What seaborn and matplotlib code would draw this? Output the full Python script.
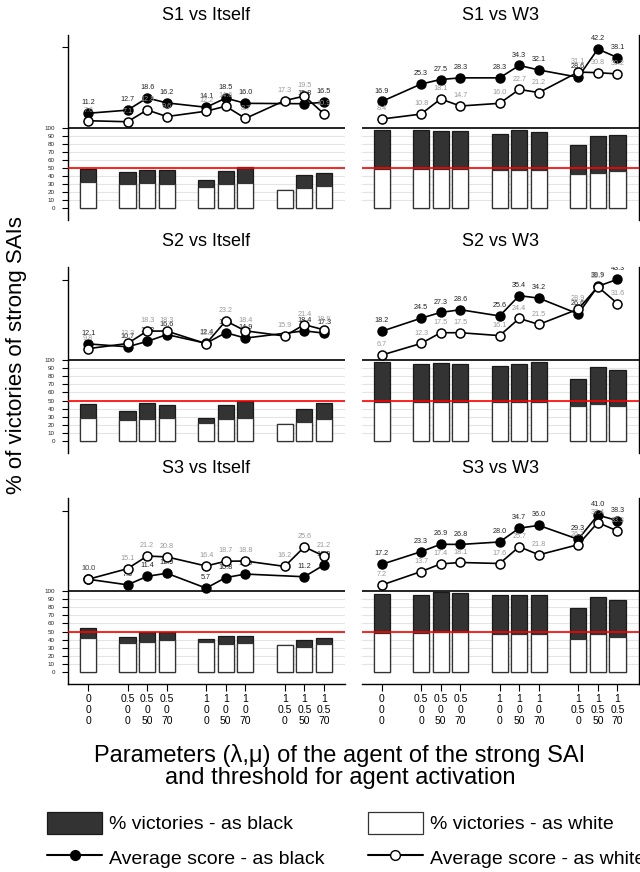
import numpy as np
import pandas as pd
import matplotlib
matplotlib.use("Agg")
import matplotlib.pyplot as plt
from matplotlib.patches import Patch
from matplotlib.lines import Line2D
import seaborn as sns

# Parameters of the agent (lambda, mu) and activation threshold.
Lambdas = ['0', '0.5', '0.5', '0.5', '1', '1', '1', '1', '1', '1']
Mus = ['0', '0', '0', '0', '0', '0', '0', '0.5', '0.5', '0.5']
Umbrales = ['0', '0', '50', '70', '0', '50', '70', '0', '50', '70']

nan = np.nan

# % victories (white part / black part of the stacked bars).
S1_Self_Win_White = [32.6, 30.6, 31.8, 30.6, 26.9, 29.8, 31.8, 23.1, 25.2, 27.7]
S1_Self_Win_Black = [15.7, 14.9, 15.7, 16.5, 8.2, 16.1, 19.4, 0.0, 15.7, 16.5]
S1_W3_Win_White = [48.3, 48.3, 48.3, 48.3, 47.9, 47.9, 47.1, 43.0, 43.8, 45.9]
S1_W3_Win_Black = [48.4, 49.2, 48.0, 47.6, 44.7, 48.8, 47.9, 35.1, 45.5, 44.6]
S2_Self_Win_White = [28.4, 26.3, 27.2, 28.4, 22.6, 26.7, 28.0, 20.6, 23.0, 26.7]
S2_Self_Win_Black = [17.7, 11.1, 19.3, 16.5, 5.4, 17.7, 21.4, 0.0, 16.1, 20.2]
S2_W3_Win_White = [48.6, 48.6, 48.6, 47.7, 48.1, 47.7, 48.6, 43.2, 45.3, 43.2]
S2_W3_Win_Black = [48.9, 47.3, 48.1, 47.8, 44.5, 47.8, 48.9, 32.9, 46.1, 44.9]
S3_Self_Win_White = [41.6, 35.4, 37.0, 39.5, 36.6, 35.0, 36.2, 33.3, 30.5, 35.0]
S3_Self_Win_Black = [13.1, 8.2, 12.8, 9.9, 3.7, 9.9, 8.7, 0.0, 8.6, 7.4]
S3_W3_Win_White = [47.7, 47.7, 49.0, 49.0, 47.3, 46.9, 46.9, 41.2, 46.5, 43.6]
S3_W3_Win_Black = [49.4, 48.2, 49.8, 48.5, 47.4, 49.0, 49.0, 37.4, 46.1, 45.3]

# Average score as black / as white.
S1_Self_Score_Black = [11.2, 12.7, 18.6, 16.2, 14.1, 18.5, 16.0, nan, 15.8, 16.5]
S1_Self_Score_White = [7.6, 7.1, 12.8, 9.6, 12.2, 14.6, 8.7, 17.3, 19.5, 10.9]
S1_W3_Score_Black = [16.9, 25.3, 27.5, 28.3, 28.3, 34.3, 32.1, 28.6, 42.2, 38.1]
S1_W3_Score_White = [8.4, 10.8, 18.1, 14.7, 16.0, 22.7, 21.2, 31.1, 30.8, 30.2]
S2_Self_Score_Black = [12.1, 10.7, 13.3, 16.6, 12.4, 17.5, 14.9, nan, 18.4, 17.3]
S2_Self_Score_White = [9.8, 12.3, 18.3, 18.3, 12.2, 23.2, 18.4, 15.9, 21.4, 18.9]
S2_W3_Score_Black = [18.2, 24.5, 27.3, 28.6, 25.6, 35.4, 34.2, 26.6, 39.9, 43.3]
S2_W3_Score_White = [6.7, 12.3, 17.5, 17.5, 16.1, 24.4, 21.5, 28.9, 39.7, 31.6]
S3_Self_Score_Black = [10.0, 7.3, 11.4, 12.9, 5.7, 10.8, 12.5, nan, 11.2, 16.9]
S3_Self_Score_White = [10.0, 15.1, 21.2, 20.8, 16.4, 18.7, 18.8, 16.2, 25.6, 21.2]
S3_W3_Score_Black = [17.2, 23.3, 26.9, 26.8, 28.0, 34.7, 36.0, 29.3, 41.0, 38.3]
S3_W3_Score_White = [7.2, 13.7, 17.4, 18.1, 17.6, 25.7, 21.8, 26.7, 37.4, 33.3]

Titulos = ['S1 vs Itself', 'S1 vs W3', 'S2 vs Itself', 'S2 vs W3', 'S3 vs Itself', 'S3 vs W3']

Paneles = [
    (S1_Self_Win_White, S1_Self_Win_Black, S1_Self_Score_Black, S1_Self_Score_White),
    (S1_W3_Win_White, S1_W3_Win_Black, S1_W3_Score_Black, S1_W3_Score_White),
    (S2_Self_Win_White, S2_Self_Win_Black, S2_Self_Score_Black, S2_Self_Score_White),
    (S2_W3_Win_White, S2_W3_Win_Black, S2_W3_Score_Black, S2_W3_Score_White),
    (S3_Self_Win_White, S3_Self_Win_Black, S3_Self_Score_Black, S3_Self_Score_White),
    (S3_W3_Win_White, S3_W3_Win_Black, S3_W3_Score_Black, S3_W3_Score_White),
]

# Positions on the x axis: leave an empty slot when the (lambda, mu) group changes.
Posiciones = []
x = 0
for i in range(len(Lambdas)):
    if i > 0 and (Lambdas[i], Mus[i]) != (Lambdas[i - 1], Mus[i - 1]):
        x += 1
    Posiciones.append(x)
    x += 1
Etiquetas_X = [f'{l}\n{m}\n{u}' for l, m, u in zip(Lambdas, Mus, Umbrales)]

sns.set_theme(style='white')
plt.rcParams['font.family'] = ['Liberation Sans', 'DejaVu Sans']
plt.rcParams['text.color'] = 'black'
plt.rcParams['axes.labelcolor'] = 'black'
plt.rcParams['xtick.color'] = 'black'
plt.rcParams['ytick.color'] = 'black'

W, H = 640, 872
Figure = plt.figure(figsize=(W / 100, H / 100), dpi=100)

Oscuro = '#333333'
Tops = [35, 267.5, 498.5]     # top of each row, pixels
Lefts = [68, 361.5]
Ancho = 277
Alto = 185.5
Titulo_Y = [15, 241, 468]

for k, (Win_White, Win_Black, Score_Black, Score_White) in enumerate(Paneles):
    fila, col = divmod(k, 2)
    Ax = Figure.add_axes([Lefts[col] / W, 1 - (Tops[fila] + Alto) / H, Ancho / W, Alto / H])

    Datos = pd.DataFrame({'pos': Posiciones, 'blanco': Win_White,
                          'total': np.array(Win_White) + np.array(Win_Black),
                          'score_negro': Score_Black, 'score_blanco': Score_White})

    # Light grid and reference lines.
    for g in range(10, 100, 10):
        Ax.axhline(g, color='#e4e4e4', lw=0.8, zorder=0)

    # Stacked bars: total (black part on top), white part drawn over it.
    sns.barplot(data=Datos, x='pos', y='total', native_scale=True, width=0.82, color=Oscuro,
                saturation=1, edgecolor='#1a1a1a', linewidth=0.9, errorbar=None, ax=Ax, zorder=2)
    sns.barplot(data=Datos, x='pos', y='blanco', native_scale=True, width=0.82, color='white',
                saturation=1, edgecolor='#333333', linewidth=0.9, errorbar=None, ax=Ax, zorder=2)

    Ax.axhline(100, color='black', lw=1.2, zorder=3)
    Ax.axhline(50, color='red', lw=1.2, zorder=3)
    Ax.set_ylim(-15.1, 215.0)

    # Score lines on a second y axis.
    Ax2 = Ax.twinx()
    Negro = Datos.dropna(subset=['score_negro'])
    sns.lineplot(data=Negro, x='pos', y='score_negro', ax=Ax2, color='black', lw=1.2,
                 marker='o', markersize=6.5, markerfacecolor='black', markeredgecolor='black',
                 markeredgewidth=1.0, errorbar=None, legend=False, zorder=4)
    for px, v in zip(Negro['pos'], Negro['score_negro']):
        Ax2.annotate(f'{v:.1f}', (px, v), xytext=(0, 7.5), textcoords='offset points',
                     ha='center', va='center', fontsize=5.2, color='#222222', clip_on=True, zorder=5)
    sns.lineplot(data=Datos, x='pos', y='score_blanco', ax=Ax2, color='black', lw=1.2,
                 marker='o', markersize=6.5, markerfacecolor='white', markeredgecolor='black',
                 markeredgewidth=1.1, errorbar=None, legend=False, zorder=6)
    for px, v in zip(Datos['pos'], Datos['score_blanco']):
        Ax2.annotate(f'{v:.1f}', (px, v), xytext=(0, 7.5), textcoords='offset points',
                     ha='center', va='center', fontsize=5.2, color='#999999', clip_on=True, zorder=7)
    Ax2.set_ylim(-40.6, 49.0)
    Ax2.set_yticks([])
    Ax2.set_ylabel('')
    for s in Ax2.spines.values():
        s.set_visible(False)

    Ax.set_xlim(-1.03, 13.07)
    Ax.set_xlabel('')
    Ax.set_ylabel('')
    for s in Ax.spines.values():
        s.set_visible(False)
        s.set_color('black')
        s.set_linewidth(1.0)

    if col == 0:
        Ax.spines['left'].set_visible(True)
        Ax.yaxis.tick_left()
        Ax.set_yticks(list(range(0, 101, 10)) + [200])
        Ax.set_yticklabels([str(t) for t in range(0, 101, 10)] + [''])
        Ax.tick_params(axis='y', which='both', left=True, length=4.5, width=0.8, color='black',
                       labelsize=4.5, pad=5, labelcolor='#222222')
    else:
        Ax.spines['right'].set_visible(True)
        Ax.yaxis.tick_right()
        Ax.set_yticks([0, 180])
        Ax.set_yticklabels(['', ''])
        Ax.tick_params(axis='y', which='both', right=True, length=4.5, width=0.8, color='black')

    if fila == 2:
        Ax.spines['bottom'].set_visible(True)
        Ax.set_xticks(Posiciones)
        Ax.set_xticklabels(Etiquetas_X, fontsize=7.5, linespacing=1.15)
        Ax.tick_params(axis='x', bottom=True, length=5, width=0.8, color='black', pad=2)
    else:
        Ax.set_xticks([])

    Figure.text((Lefts[col] + Ancho / 2) / W, 1 - Titulo_Y[fila] / H, Titulos[k],
                ha='center', va='center', fontsize=13)

Figure.text(17 / W, 1 - 355 / H, '% of victories of strong SAIs', rotation=90,
            ha='center', va='center', fontsize=16)
Figure.text(340 / W, 1 - 766 / H,
            'Parameters (\u03bb,\u03bc) of the agent of the strong SAI\nand threshold for agent activation',
            ha='center', va='center', fontsize=17, linespacing=1.0)

Handles = [
    Patch(facecolor=Oscuro, edgecolor='#1a1a1a', linewidth=0.9, label='% victories - as black'),
    Line2D([], [], color='black', lw=1.5, marker='o', markersize=7, markerfacecolor='black',
           label='Average score - as black'),
    Patch(facecolor='white', edgecolor='#333333', linewidth=0.9, label='% victories - as white'),
    Line2D([], [], color='black', lw=1.5, marker='o', markersize=7, markerfacecolor='white',
           markeredgecolor='black', label='Average score - as white'),
]
Figure.legend(handles=Handles, ncol=2, loc='upper left', bbox_to_anchor=(47 / W, 1 - 812 / H),
              frameon=False, fontsize=14, handlelength=2.85, handleheight=1.35,
              handletextpad=0.36, labelspacing=0.66, columnspacing=2.2, borderpad=0, borderaxespad=0)

Figure.savefig('out.png', dpi=100)
